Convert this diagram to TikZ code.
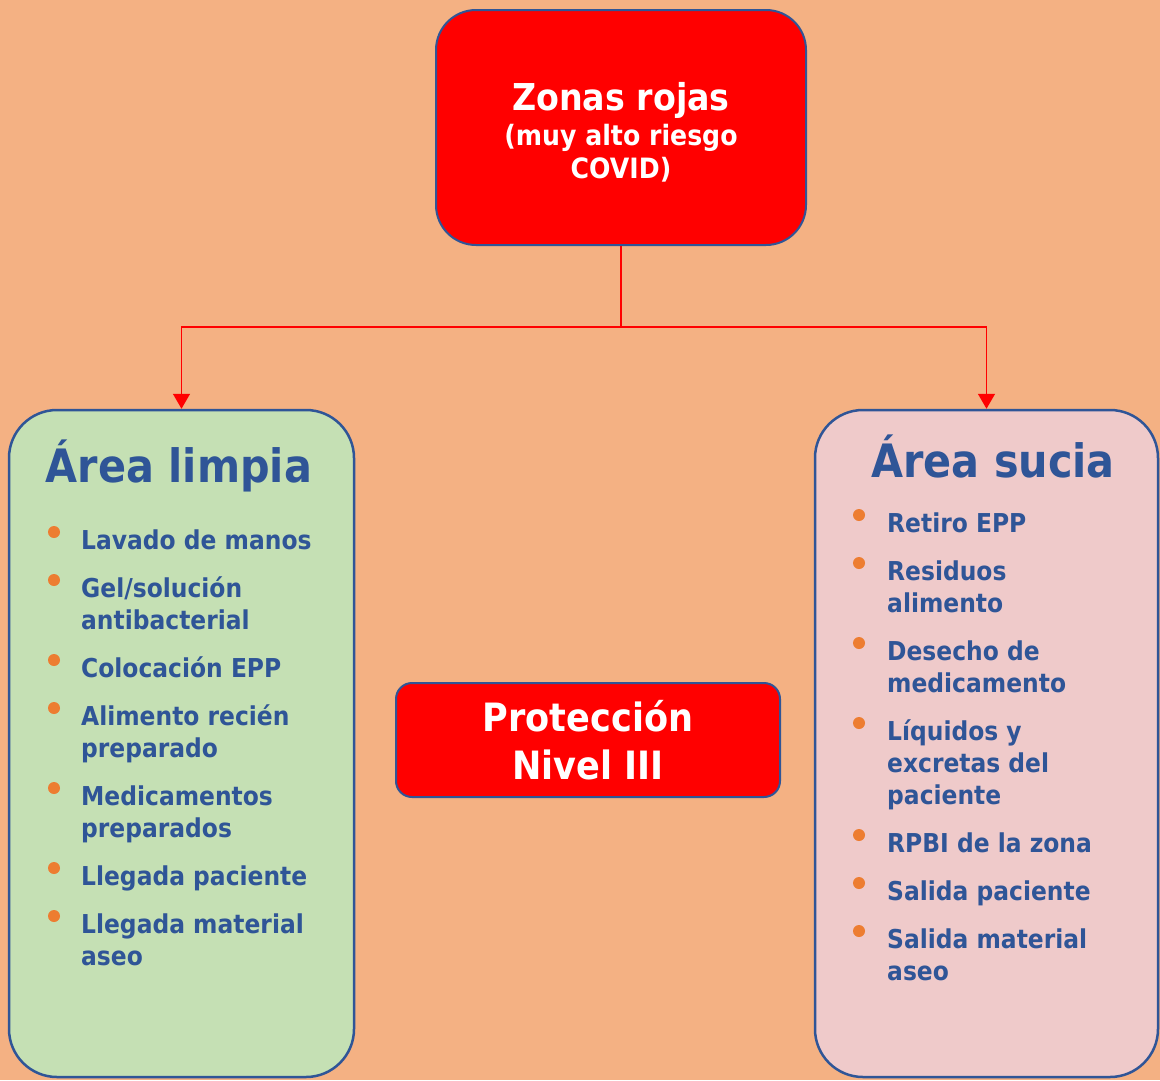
\documentclass[tikz,border=0pt]{standalone}
\usepackage{fontspec}
\setmainfont{DejaVu Sans Bold}[FakeStretch=0.9]
\usetikzlibrary{arrows.meta,positioning}
\definecolor{fondo}{HTML}{F4B183}
\definecolor{azul}{HTML}{2F5597}
\definecolor{verde}{HTML}{C5E0B4}
\definecolor{rosa}{HTML}{EFCACA}
\definecolor{naranja}{HTML}{ED7D31}
\definecolor{rojo}{HTML}{FF0000}
\tikzset{
	caja/.style={draw=azul, line width=2.5pt, rounded corners=48pt, inner sep=0pt},
	cajaroja/.style={caja, fill=rojo, line width=2pt, text=white, align=center},
	conector/.style={draw=rojo, line width=1.5pt, -{Triangle[width=17pt,length=15pt]}},
	titulo/.style={text=azul, font=\fontsize{46}{50}\selectfont, inner sep=0pt},
	punto/.style={text=azul, font=\fontsize{26}{32}\selectfont, align=left, inner sep=0pt, anchor=base west}
}
\begin{document}
\begin{tikzpicture}[x=1pt,y=-1pt]
	% Fondo
	\fill [fondo] (0,0) rectangle (1160,1080);
	\useasboundingbox (0,0) rectangle (1160,1080);
	\clip (0,0) rectangle (1160,1080);
	% Cajas
	\node [cajaroja, rounded corners=40pt, minimum width=370pt, minimum height=235pt, font=\fontsize{28}{33}\selectfont] (zonas) at (621,127.5) {{\fontsize{37}{36}\selectfont\rule{0pt}{37pt}Zonas rojas}\\[2pt](muy alto riesgo\\COVID)};
	\node [caja, fill=verde, minimum width=345pt, minimum height=667pt] (limpia) at (181.5,743.5) {};
	\node [caja, fill=rosa, minimum width=343pt, minimum height=667pt] (sucia) at (986.5,743.5) {};
	\node [cajaroja, rounded corners=16pt, minimum width=384pt, minimum height=114pt, font=\fontsize{39}{48}\selectfont] (nivel) at (588,740) {Protección\\Nivel III};
	% Flechas
	\coordinate (reparto) at (621,327);
	\draw [conector] (zonas.south) -- (reparto) -| (limpia.north);
	\draw [conector] (reparto) -| (sucia.north);
	% Titulos
	\node [titulo, anchor=base] (tlimpia) at (179,482) {Área limpia};
	\node [titulo, anchor=base] (tsucia) at (993,477) {Área sucia};
	% Puntos (y = linea base de la ultima linea)
	\foreach \b/\y/\txt [count=\i] in {549/549/Lavado de manos, 597/629/{Gel/solución\\antibacterial}, 677/677/Colocación EPP, 725/757/{Alimento recién\\preparado}, 805/837/{Medicamentos\\preparados}, 885/885/Llegada paciente, 933/965/{Llegada material\\aseo}} {
		\fill [naranja] (54,\b-17) circle (6pt);
		\node [punto] (l\i) at (81,\y) {\txt};
	}
	\foreach \b/\y/\txt [count=\i] in {532/532/Retiro EPP, 580/612/{Residuos\\alimento}, 660/692/{Desecho de\\medicamento}, 740/804/{Líquidos y\\excretas del\\paciente}, 852/852/RPBI de la zona, 900/900/Salida paciente, 948/980/{Salida material\\aseo}} {
		\fill [naranja] (859,\b-17) circle (6pt);
		\node [punto] (s\i) at (887,\y) {\txt};
	}
\end{tikzpicture}
\end{document}
